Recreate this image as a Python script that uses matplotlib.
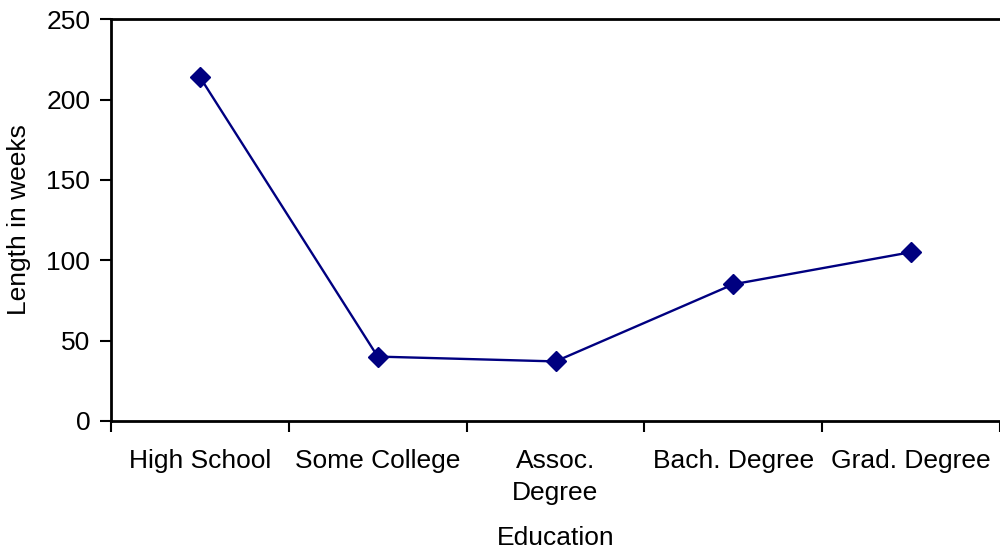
import numpy as np
import matplotlib.pyplot as plt
from matplotlib.ticker import FixedLocator, NullFormatter

plt.rcParams['font.family'] = ['Liberation Sans', 'DejaVu Sans']

categories = ['High School', 'Some College', 'Assoc.\nDegree', 'Bach. Degree', 'Grad. Degree']
weeks = [214, 40, 37, 85, 105]

fig = plt.figure(figsize=(10, 5.48), dpi=100)
ax = fig.add_axes([0.111, 0.232, 0.889, 0.733])

x = np.arange(len(categories))
ax.plot(x, weeks, color='#000080', linewidth=1.7, marker='D', markersize=10)

ax.set_xlim(-0.5, len(categories) - 0.5)
ax.set_ylim(0, 250)
ax.set_yticks([0, 50, 100, 150, 200, 250])

# category boundaries carry the ticks, centers carry the labels
ax.xaxis.set_major_locator(FixedLocator(np.arange(-0.5, len(categories), 1.0)))
ax.xaxis.set_major_formatter(NullFormatter())
ax.xaxis.set_minor_locator(FixedLocator(x))
ax.set_xticklabels(categories, minor=True, ha='center', multialignment='center',
                   linespacing=1.45)
ax.tick_params(axis='x', which='minor', length=0, pad=20, labelsize=19)
ax.tick_params(axis='x', which='major', direction='out', length=8, width=1.5)
ax.tick_params(axis='y', direction='out', length=8, width=1.5, labelsize=19, pad=7)

for side in ['left', 'bottom', 'top']:
    ax.spines[side].set_linewidth(2)
ax.spines['right'].set_visible(False)

ax.set_xlabel('Education', fontsize=19, labelpad=15)
ax.set_ylabel('Length in weeks', fontsize=19, labelpad=11)

fig.savefig('out.png', dpi=100)
